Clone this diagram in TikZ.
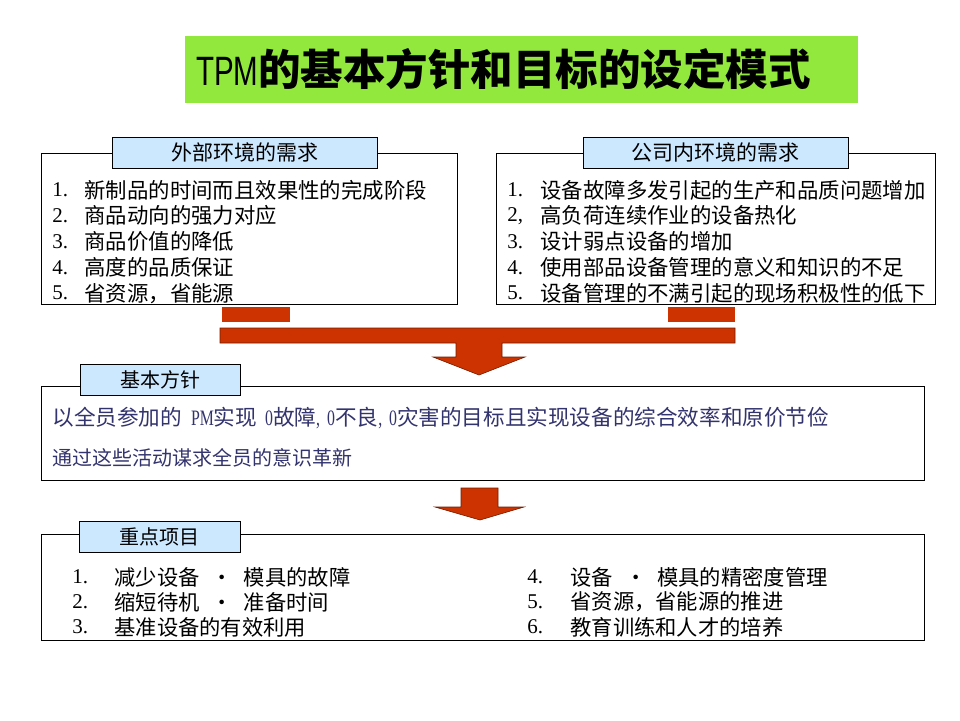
\documentclass[tikz,border=0pt]{standalone}
\usepackage{fontspec}
\setmainfont{Noto Sans CJK SC}
\newfontfamily\latin{Liberation Serif}
\newfontfamily\latinnarrow{Liberation Serif}[FakeStretch=0.72]
\newfontfamily\tpmfont{Liberation Sans}[FakeStretch=0.72]
\definecolor{titlegreen}{RGB}{146,232,60}
\definecolor{tabblue}{RGB}{204,232,255}
\definecolor{arrowred}{RGB}{204,51,0}
\definecolor{policyblue}{RGB}{51,51,110}
\newcommand{\dotsep}{\hspace{12pt}•\hspace{11pt}}
\newcommand{\lat}[1]{{\latinnarrow\fontsize{22}{22}\selectfont #1}}

\begin{document}
\begin{tikzpicture}[x=1pt, y=-1pt, line width=0.8pt,
    frame/.style={draw, fill=white, inner sep=0pt},
    tab/.style={draw, fill=tabblue, inner sep=0pt, minimum height=31pt, font=\fontsize{21}{21}\selectfont},
    item/.style={anchor=west, inner sep=0pt, font=\fontsize{21.4}{22}\selectfont},
    num/.style={anchor=west, inner sep=0pt, font=\latin\fontsize{21}{22}\selectfont},
    block/.style={fill=arrowred, draw=arrowred!55!black, line width=0.6pt}]
  \fill[white] (0,0) rectangle (960,720);
  \useasboundingbox (0,0) rectangle (960,720);
  % title
  \node[fill=titlegreen, minimum width=673pt, minimum height=67pt, inner sep=0pt] (title) at (521.5,69.5) {};
  \node[anchor=west, inner sep=0pt] (titletext) at ([xshift=11pt]title.west)
       {{\tpmfont\fontsize{41}{41}\selectfont TPM}{\bfseries\fontsize{42.5}{42.5}\selectfont 的基本方针和目标的设定模式}};
  % demands
  \node[frame, minimum width=416pt, minimum height=151pt] (ext) at (249,228.5) {};
  \node[tab, minimum width=265pt] (extlbl) at (244.5,152.5) {外部环境的需求};
  \foreach \t [count=\i] in {新制品的时间而且效果性的完成阶段, 商品动向的强力对应, 商品价值的降低, 高度的品质保证, 省资源，省能源} {
    \node[num] (extn\i) at (52,164.2+25.8*\i) {\i.};
    \node[item] (extt\i) at (84,164.2+25.8*\i) {\t};
  }
  \node[frame, minimum width=439pt, minimum height=151pt] (int) at (715.5,228.5) {};
  \node[tab, minimum width=265pt] (intlbl) at (715.5,152.5) {公司内环境的需求};
  \foreach \n/\t [count=\i] in {1./设备故障多发引起的生产和品质问题增加, {2,}/高负荷连续作业的设备热化, 3./设计弱点设备的增加, 4./使用部品设备管理的意义和知识的不足, 5./设备管理的不满引起的现场积极性的低下} {
    \node[num] (intn\i) at (507,164.2+25.8*\i) {\n};
    \node[item] (intt\i) at (540,164.2+25.8*\i) {\t};
  }
  % merging arrow
  \fill[arrowred] (222,307) rectangle (290,322);
  \fill[arrowred] (668,307) rectangle (735,322);
  \draw[block] (220,328) -- (735,328) -- (735,343) -- (502,343) -- (502,357) -- (525,357)
       -- (479,375) -- (433,357) -- (456,357) -- (456,343) -- (220,343) -- cycle;
  % basic policy
  \node[frame, minimum width=883pt, minimum height=94pt] (policy) at (482.5,433) {};
  \node[tab, minimum width=160pt, font=\fontsize{20}{20}\selectfont] (policylbl) at (160,380) {基本方针};
  \begin{scope}[every node/.style={anchor=west, inner sep=0pt, text=policyblue}]
    \node[font=\fontsize{21.6}{22}\selectfont] (pol1) at (52,418)
      {以全员参加的\hspace{9pt}\lat{PM}实现\hspace{8pt}\lat{0}故障\lat{,\hspace{7pt}0}不良\lat{,\hspace{7pt}0}灾害的目标且实现设备的综合效率和原价节俭};
    \node[font=\fontsize{20}{21}\selectfont] (pol2) at (52,458) {通过这些活动谋求全员的意识革新};
  \end{scope}
  \draw[block] (461,488) -- (498,488) -- (498,507) -- (524,507) -- (480,520) -- (435,507) -- (461,507) -- cycle;
  % key items
  \node[frame, minimum width=883pt, minimum height=106pt] (key) at (482.5,587) {};
  \node[tab, minimum width=161pt, font=\fontsize{20}{20}\selectfont] (keylbl) at (159.5,537) {重点项目};
  \foreach \t [count=\i] in {减少设备\dotsep 模具的故障, 缩短待机\dotsep 准备时间, 基准设备的有效利用} {
    \node[num] (keyln\i) at (72,552+25*\i) {\i.};
    \node[item, font=\fontsize{21.3}{22}\selectfont] (keylt\i) at (114,552+25*\i) {\t};
  }
  \foreach \t [count=\i from 4] in {设备\dotsep 模具的精密度管理, 省资源，省能源的推进, 教育训练和人才的培养} {
    \node[num] (keyrn\i) at (527,477+25*\i) {\i.};
    \node[item, font=\fontsize{21.3}{22}\selectfont] (keyrt\i) at (570,477+25*\i) {\t};
  }
\end{tikzpicture}
\end{document}
